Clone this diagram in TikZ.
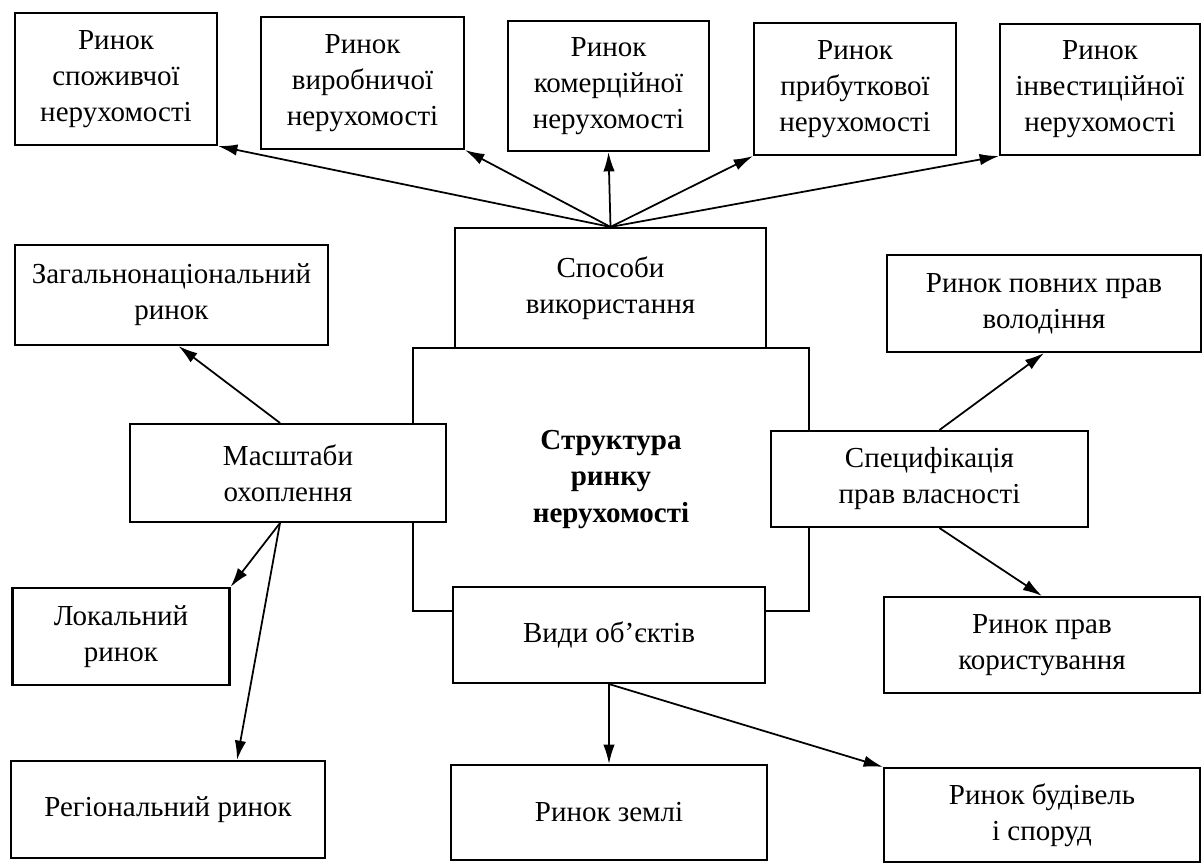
\documentclass[tikz,border=0pt]{standalone}
\usepackage{fontspec}
\setmainfont{Liberation Serif}
\usetikzlibrary{arrows.meta, calc}

\begin{document}
\begin{tikzpicture}[
    x=0.2mm, y=-0.2mm,
    box/.style={draw, fill=white, line width=1.2pt, align=center, inner sep=0pt, font=\fontsize{16.5}{20.5}\selectfont},
    arr/.style={-{Latex[length=11pt,width=6.5pt]}, line width=1pt}
]
    \useasboundingbox (0,0) rectangle (1203,864);
    % centre and its four sides
    \node[box, minimum width=79.2mm, minimum height=52.6mm, font=\fontsize{16.5}{20.5}\selectfont\bfseries] (struct) at (611,479.5) {Структура\\ринку\\нерухомості};
    \node[box, minimum width=62.2mm, minimum height=24mm] (sposoby) at (610.5,288) {Способи\\використання};
    \node[box, minimum width=63.2mm, minimum height=19.6mm] (masht) at (288,473) {Масштаби\\охоплення};
    \node[box, minimum width=63.4mm, minimum height=19.2mm] (spec) at (929.5,479) {Специфікація\\прав власності};
    \node[box, minimum width=62.4mm, minimum height=19.2mm] (vydy) at (609,635) {Види об’єктів};

    % top row
    \node[box, minimum width=40.4mm, minimum height=26.4mm] (spozh) at (116,79) {Ринок\\споживчої\\нерухомості};
    \node[box, minimum width=40.6mm, minimum height=26.4mm] (vyrob) at (362.5,83) {Ринок\\виробничої\\нерухомості};
    \node[box, minimum width=40.2mm, minimum height=26mm] (komer) at (608.5,86) {Ринок\\комерційної\\нерухомості};
    \node[box, minimum width=40.4mm, minimum height=26.4mm] (prybut) at (855,89) {Ринок\\прибуткової\\нерухомості};
    \node[box, minimum width=40mm, minimum height=26.2mm] (invest) at (1100,89.5) {Ринок\\інвестиційної\\нерухомості};

    % left side
    \node[box, minimum width=62.6mm, minimum height=20mm] (zahal) at (171.5,295) {Загальнонаціональний\\ринок};
    \node[box, minimum width=43.4mm, minimum height=19.4mm] (lokal) at (121,636.5) {Локальний\\ринок};
    \node[box, minimum width=62.8mm, minimum height=19.4mm] (region) at (168,809.5) {Регіональний ринок};

    % right side
    \node[box, minimum width=62.8mm, minimum height=19.4mm] (povn) at (1044,303.5) {Ринок повних прав\\володіння};
    \node[box, minimum width=63.2mm, minimum height=19.2mm] (korys) at (1042,645) {Ринок прав\\користування};

    % bottom
    \node[box, minimum width=63.2mm, minimum height=19mm] (zemli) at (609,812.5) {Ринок землі};
    \node[box, minimum width=63.2mm, minimum height=18.8mm] (budiv) at (1042,815) {Ринок будівель\\і споруд};

    \draw[arr] (sposoby.north) -- (spozh.south east);
    \draw[arr] (sposoby.north) -- (vyrob.south east);
    \draw[arr] (sposoby.north) -- (komer.south);
    \draw[arr] (sposoby.north) -- (prybut.south west);
    \draw[arr] (sposoby.north) -- (invest.south west);

    \draw[arr] ($(masht.north)+(-8,0)$) -- ($(zahal.south)+(7,0)$);
    \draw[arr] ($(masht.south)+(-8,0)$) -- (lokal.north east);
    \draw[arr] ($(masht.south)+(-8,0)$) -- ($(region.north)+(69,0)$);

    \draw[arr] ($(spec.north)+(10,0)$) -- (povn.south);
    \draw[arr] ($(spec.south)+(10,0)$) -- (korys.north);

    \draw[arr] (vydy.south) -- (zemli.north);
    \draw[arr] (vydy.south) -- (budiv.north west);
\end{tikzpicture}
\end{document}
